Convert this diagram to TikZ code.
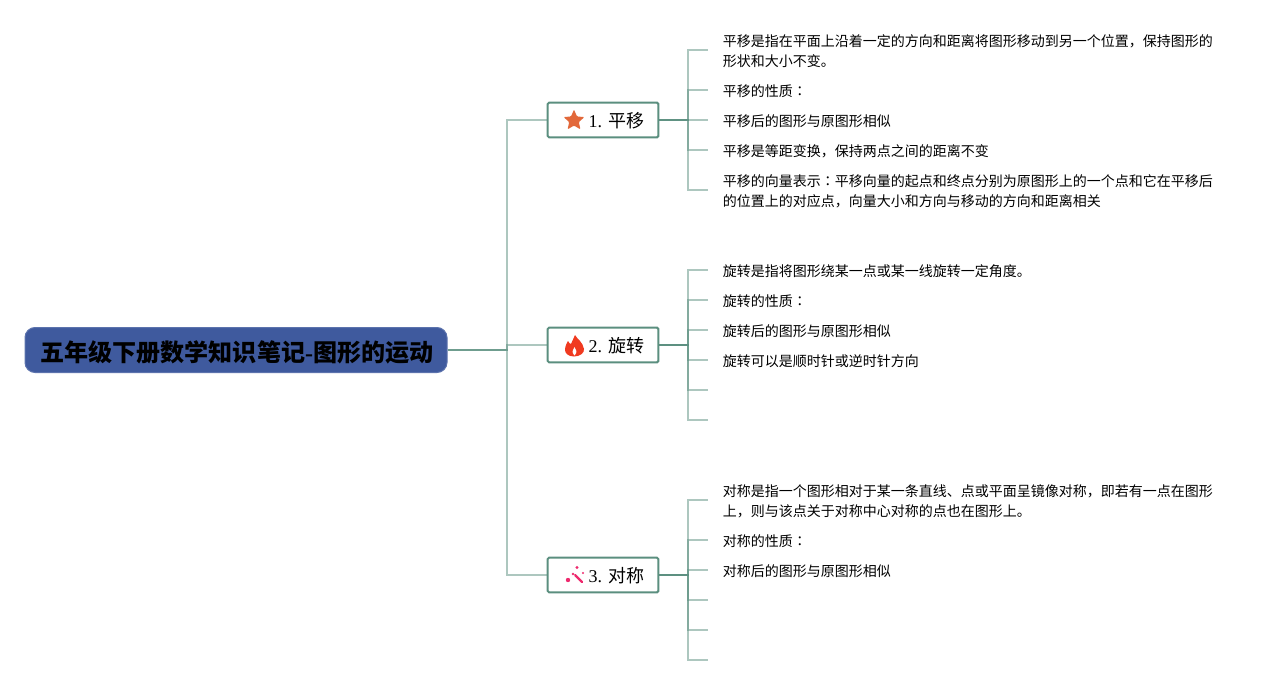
\documentclass[tikz,border=0pt]{standalone}
\usepackage{fontspec}
\setmainfont{Liberation Serif}
\newfontfamily\cjk{Noto Sans CJK SC}
\newfontfamily\cjktc{Noto Sans CJK TC}
\usetikzlibrary{shapes.geometric}
\definecolor{linkgreen}{HTML}{5B8F7F}
\definecolor{rootblue}{HTML}{3F5A9E}
\definecolor{stariconcolor}{HTML}{E2683A}
\definecolor{flameiconcolor}{HTML}{F03A20}
\definecolor{wandiconcolor}{HTML}{EE2A6E}
\newcommand{\colonmark}{{\cjktc ：}}

\tikzset{
    roottopic/.style={draw=rootblue!85!white, fill=rootblue, line width=0.75pt, rounded corners=7.5pt,
        minimum width=316.5pt, minimum height=33.75pt, inner sep=0pt, text height=17pt, text depth=0.2pt,
        font=\fontsize{18.05}{22}\selectfont\bfseries},
    branchtopic/.style={draw=linkgreen, fill=white, line width=1.5pt, rounded corners=1pt,
        minimum width=83pt, minimum height=26pt, inner sep=0pt, text height=12pt, text depth=0.3pt,
        font=\fontsize{13.5}{16}\selectfont},
    leaftopic/.style={anchor=west, yshift=-1.1pt, inner xsep=10.9pt, inner ysep=0pt, align=left,
        font=\fontsize{10.5}{15}\selectfont\cjk},
    linkline/.style={draw=linkgreen, line width=1.2pt, opacity=0.5},
}

\begin{document}
\begin{tikzpicture}[x=0.75pt, y=-0.75pt]
    \useasboundingbox (0, 0) rectangle (1283, 685);

    % Topics
    \node[roottopic] (root) at (236, 350) {\hspace*{1.5pt}{\cjk 五年级下册数学知识笔记}-{\cjk 图形的运动}};
    \foreach \name/\y/\lab in {
        move/120/{1. {\cjk 平移}},
        turn/345/{2. {\cjk 旋转}},
        flip/575/{3. {\cjk 对称}}} {
        \node[branchtopic] (\name) at (603, \y) {\hspace*{20pt}\lab};
    }

    % Leaves of the first topic
    \foreach \name/\y/\lab in {
        m1/50/{平移是指在平面上沿着一定的方向和距离将图形移动到另一个位置，保持图形的\\形状和大小不变。},
        m2/90/{平移的性质\colonmark},
        m3/120/{平移后的图形与原图形相似},
        m4/150/{平移是等距变换，保持两点之间的距离不变},
        m5/190/{平移的向量表示\colonmark 平移向量的起点和终点分别为原图形上的一个点和它在平移后\\的位置上的对应点，向量大小和方向与移动的方向和距离相关}} {
        \node[leaftopic] (\name) at (708, \y) {\lab};
    }

    % Leaves of the second topic
    \foreach \name/\y/\lab in {
        t1/270/{旋转是指将图形绕某一点或某一线旋转一定角度。},
        t2/300/{旋转的性质\colonmark},
        t3/330/{旋转后的图形与原图形相似},
        t4/360/{旋转可以是顺时针或逆时针方向},
        t5/390/{},
        t6/420/{}} {
        \node[leaftopic] (\name) at (708, \y) {\lab};
    }

    % Leaves of the third topic
    \foreach \name/\y/\lab in {
        f1/500/{对称是指一个图形相对于某一条直线、点或平面呈镜像对称，即若有一点在图形\\上，则与该点关于对称中心对称的点也在图形上。},
        f2/540/{对称的性质\colonmark},
        f3/570/{对称后的图形与原图形相似},
        f4/600/{},
        f5/630/{},
        f6/660/{}} {
        \node[leaftopic] (\name) at (708, \y) {\lab};
    }

    % Connectors
    \foreach \name in {move, turn, flip}
        \draw[linkline] (root.east) -- (507, 350) |- (\name.west);
    \foreach \name in {m1, m2, m3, m4, m5}
        \draw[linkline] (move.east) -- (688, 120) |- ([yshift=1.1pt]\name.west);
    \foreach \name in {t1, t2, t3, t4, t5, t6}
        \draw[linkline] (turn.east) -- (688, 345) |- ([yshift=1.1pt]\name.west);
    \foreach \name in {f1, f2, f3, f4, f5, f6}
        \draw[linkline] (flip.east) -- (688, 575) |- ([yshift=1.1pt]\name.west);

    % Icons
    \node[star, star points=5, star point ratio=2.2, fill=stariconcolor, rounded corners=0.8pt,
        minimum size=16.5pt, inner sep=0pt] (staricon) at (574, 120.5) {};
    \fill[flameiconcolor] (575, 335)
        .. controls (577, 339) and (583, 342) .. (584, 349)
        .. controls (584.5, 353) and (580, 356.5) .. (574, 356.5)
        .. controls (568, 356.5) and (564.5, 353) .. (565, 349)
        .. controls (565.5, 345) and (567, 343) .. (568, 341)
        .. controls (569, 343) and (570, 344) .. (571, 344)
        .. controls (572, 341) and (574, 338) .. (575, 335) -- cycle;
    \fill[white] (574.5, 347) .. controls (576, 350) and (578, 352) .. (574.5, 355.5)
        .. controls (571, 352) and (573, 350) .. (574.5, 347) -- cycle;
    \draw[line width=1.6pt, line cap=round, wandiconcolor] (575, 575) -- (582, 582);
    \foreach \x/\y/\r in {568/580/2.2, 573/574/1.4, 577/567.5/1.6, 583/573/1.1}
        \fill[wandiconcolor] (\x, \y) circle (\r);
\end{tikzpicture}
\end{document}
